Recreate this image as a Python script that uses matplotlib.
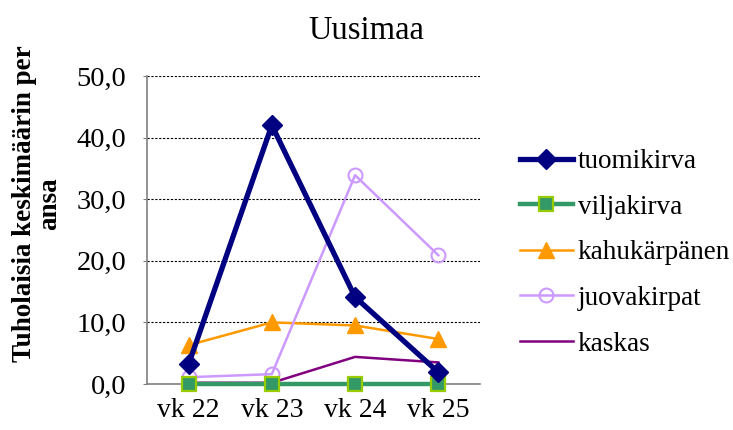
import matplotlib
matplotlib.use("Agg")
import matplotlib.pyplot as plt

plt.rcParams['font.family'] = ['Liberation Serif', 'DejaVu Serif']

viikot = ['vk 22', 'vk 23', 'vk 24', 'vk 25']
tuomikirva = [3.2, 42.0, 14.1, 1.9]
viljakirva = [0.0, 0.0, 0.0, 0.0]
kahukarpanen = [6.3, 10.0, 9.5, 7.3]
juovakirpat = [1.1, 1.6, 33.9, 20.9]
kaskas = [0.2, 0.2, 4.4, 3.5]

fig = plt.figure(figsize=(7.33, 4.30), dpi=100)
ax = fig.add_axes([0.2005, 0.107, 0.4543, 0.7163])

x = range(len(viikot))
ax.plot(x, tuomikirva, color='#000080', lw=3.8, marker='D', ms=10,
        mfc='#000080', mec='#000080', label='tuomikirva', clip_on=False, zorder=5)
ax.plot(x, viljakirva, color='#339966', lw=3.2, marker='s', ms=10,
        mfc='#339966', mec='#99CC00', mew=1.6, label='viljakirva', clip_on=False, zorder=4)
ax.plot(x, kahukarpanen, color='#FF9900', lw=1.8, marker='^', ms=11,
        mfc='#FF9900', mec='#FF9900', label='kahukärpänen', clip_on=False, zorder=3)
ax.plot(x, juovakirpat, color='#CC99FF', lw=1.8, marker='o', ms=10,
        mfc='none', mec='#CC99FF', mew=1.5, label='juovakirpat', clip_on=False, zorder=3)
ax.plot(x, kaskas, color='#800080', lw=1.8, label='kaskas', clip_on=False, zorder=3)

ax.set_xlim(-0.5, 3.5)
ax.set_ylim(0, 50)
ax.set_yticks([0, 10, 20, 30, 40, 50])
ax.set_yticklabels([f'{v:.1f}'.replace('.', ',') for v in [0, 10, 20, 30, 40, 50]], fontsize=20.5)
ax.set_xticks(list(x))
ax.set_xticklabels(viikot, fontsize=20)
ax.tick_params(axis='x', length=0, pad=10)
ax.tick_params(axis='y', length=3, color='#808080', pad=12)

ax.yaxis.grid(True, color='black', ls=(0, (2, 1.5)), lw=0.8)
ax.set_axisbelow(True)
for s in ['top', 'right']:
    ax.spines[s].set_visible(False)
for s in ['left', 'bottom']:
    ax.spines[s].set_color('#808080')
    ax.spines[s].set_linewidth(1.2)

fig.suptitle('Uusimaa', fontsize=23.5, x=0.5, y=0.965)
fig.text(0.05, 0.526, 'Tuholaisia keskimäärin per\nansa', rotation=90,
         ha='center', va='center', ma='center', fontsize=19.5, fontweight='bold',
         linespacing=1.0)

fig.legend(loc='upper left', bbox_to_anchor=(0.709, 0.653), frameon=False,
           fontsize=19.5, handlelength=1.95, handletextpad=0.2, labelspacing=0.76,
           borderaxespad=0, borderpad=0)

fig.savefig('out.png', dpi=100)
